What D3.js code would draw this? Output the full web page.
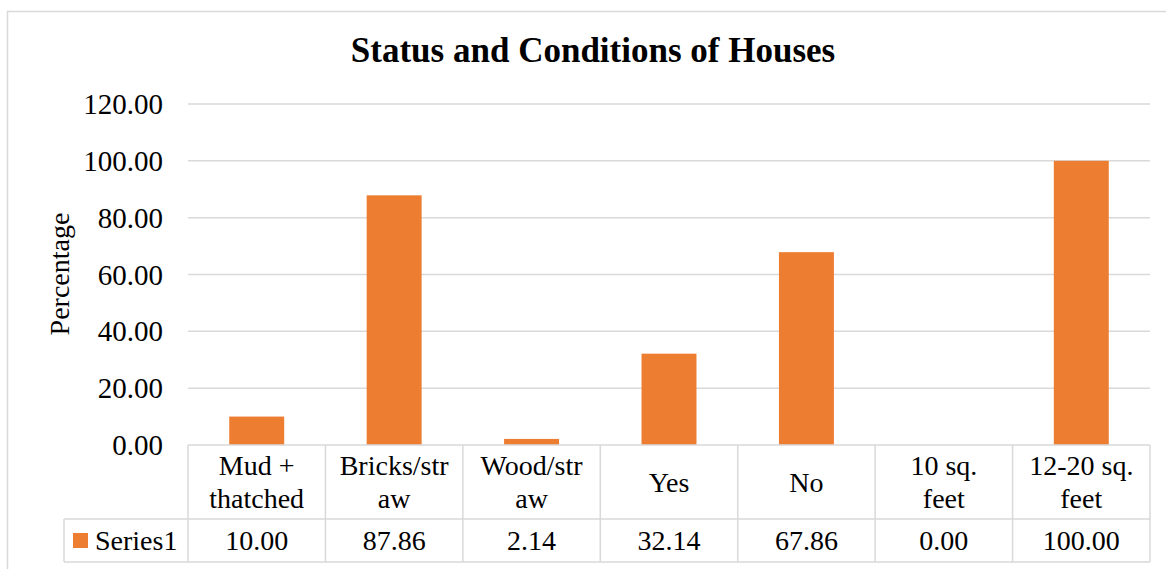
<!DOCTYPE html>
<html>
<head>
<meta charset="utf-8">
<script src="https://cdn.jsdelivr.net/npm/d3@7"></script>
<style>
  html, body { margin: 0; padding: 0; background: #fff; }
  svg { display: block; }
  svg text { font-family: 'Liberation Serif', 'Times New Roman', Times, Tinos, 'DejaVu Serif', serif; }
</style>
</head>
<body>
<svg id="chart" width="1166" height="569"></svg>
<script>
const title = "Status and Conditions of Houses";
const yAxisTitle = "Percentage";
const seriesName = "Series1";
const categories = ["Mud + thatched", "Bricks/straw", "Wood/straw", "Yes", "No", "10 sq. feet", "12-20 sq. feet"];
const categoryLines = [["Mud +", "thatched"], ["Bricks/str", "aw"], ["Wood/str", "aw"], ["Yes"], ["No"], ["10 sq.", "feet"], ["12-20 sq.", "feet"]];
const values = [10.00, 87.86, 2.14, 32.14, 67.86, 0.00, 100.00];
const yTicks = [0, 20, 40, 60, 80, 100, 120];

(function () {
const svg = d3.select("#chart");
const W = 1166, H = 569;
const pLeft = 188, pRight = 1150, pTop = 104, pBottom = 445;
const grid = "#d9d9d9";
const orange = "#ED7D31";
const FF = "'Liberation Serif', 'Times New Roman', Times, Tinos, serif";

// outer border
svg.append("rect").attr("x", 7.5).attr("y", 11.5).attr("width", W + 10).attr("height", H + 10)
  .attr("fill", "none").attr("stroke", grid).attr("stroke-width", 1.5);

const x = d3.scaleBand().domain(categories).range([pLeft, pRight]).paddingInner(0).paddingOuter(0);
const y = d3.scaleLinear().domain([0, 120]).range([pBottom, pTop]);

// gridlines
svg.append("g").selectAll("line").data(yTicks.filter(d => d > 0)).join("line")
  .attr("x1", pLeft).attr("x2", pRight)
  .attr("y1", d => y(d)).attr("y2", d => y(d))
  .attr("stroke", grid).attr("stroke-width", 1.5);

// y tick labels
svg.append("g").selectAll("text").data(yTicks).join("text")
  .attr("x", 163).attr("y", d => y(d) + 10)
  .attr("text-anchor", "end").attr("font-size", 29).attr("font-family", FF).attr("fill", "#000")
  .text(d => d3.format(".2f")(d));

// bars
const bw = x.bandwidth() * 0.4;
svg.append("g").selectAll("rect").data(values).join("rect")
  .attr("x", (d, i) => x(categories[i]) + x.bandwidth() / 2 - bw / 2)
  .attr("width", bw)
  .attr("y", d => y(d))
  .attr("height", d => y(0) - y(d))
  .attr("fill", orange);

// title
svg.append("text").attr("x", 593).attr("y", 62).attr("text-anchor", "middle").attr("font-family", FF)
  .attr("font-size", 35).attr("font-weight", "bold").text(title);

// y axis title
svg.append("text").attr("transform", "translate(69,274) rotate(-90)").attr("font-family", FF)
  .attr("text-anchor", "middle").attr("font-size", 28).text(yAxisTitle);

// data table
const rowMid = 519, rowBot = 562, legLeft = 64;
const tg = svg.append("g").attr("stroke", grid).attr("stroke-width", 1.5);
tg.append("line").attr("x1", pLeft).attr("x2", pRight).attr("y1", pBottom).attr("y2", pBottom);
tg.append("line").attr("x1", legLeft).attr("x2", pRight).attr("y1", rowMid).attr("y2", rowMid);
tg.append("line").attr("x1", legLeft).attr("x2", pRight).attr("y1", rowBot).attr("y2", rowBot);
tg.append("line").attr("x1", legLeft).attr("x2", legLeft).attr("y1", rowMid).attr("y2", rowBot);
const bounds = categories.map(c => x(c)).concat([pRight]);
tg.selectAll("line.v").data(bounds).join("line").attr("class", "v")
  .attr("x1", d => d).attr("x2", d => d).attr("y1", pBottom).attr("y2", rowBot);

// category labels
const cg = svg.append("g");
categories.forEach((c, i) => {
  const lines = categoryLines[i];
  const cx = x(c) + x.bandwidth() / 2;
  const t = cg.append("text").attr("text-anchor", "middle").attr("font-size", 28).attr("font-family", FF);
  if (lines.length === 1) {
    t.append("tspan").attr("x", cx).attr("y", 492).text(lines[0]);
  } else {
    t.append("tspan").attr("x", cx).attr("y", 475).text(lines[0]);
    t.append("tspan").attr("x", cx).attr("y", 508).text(lines[1]);
  }
});

// values row
svg.append("g").selectAll("text").data(values).join("text")
  .attr("x", (d, i) => x(categories[i]) + x.bandwidth() / 2)
  .attr("y", 550).attr("text-anchor", "middle").attr("font-size", 28).attr("font-family", FF)
  .text(d => d3.format(".2f")(d));

// legend key
svg.append("rect").attr("x", 73).attr("y", 533).attr("width", 15).attr("height", 15).attr("fill", orange);
svg.append("text").attr("x", 95).attr("y", 550).attr("font-size", 28).attr("font-family", FF).text(seriesName);
})();
</script>
</body>
</html>
